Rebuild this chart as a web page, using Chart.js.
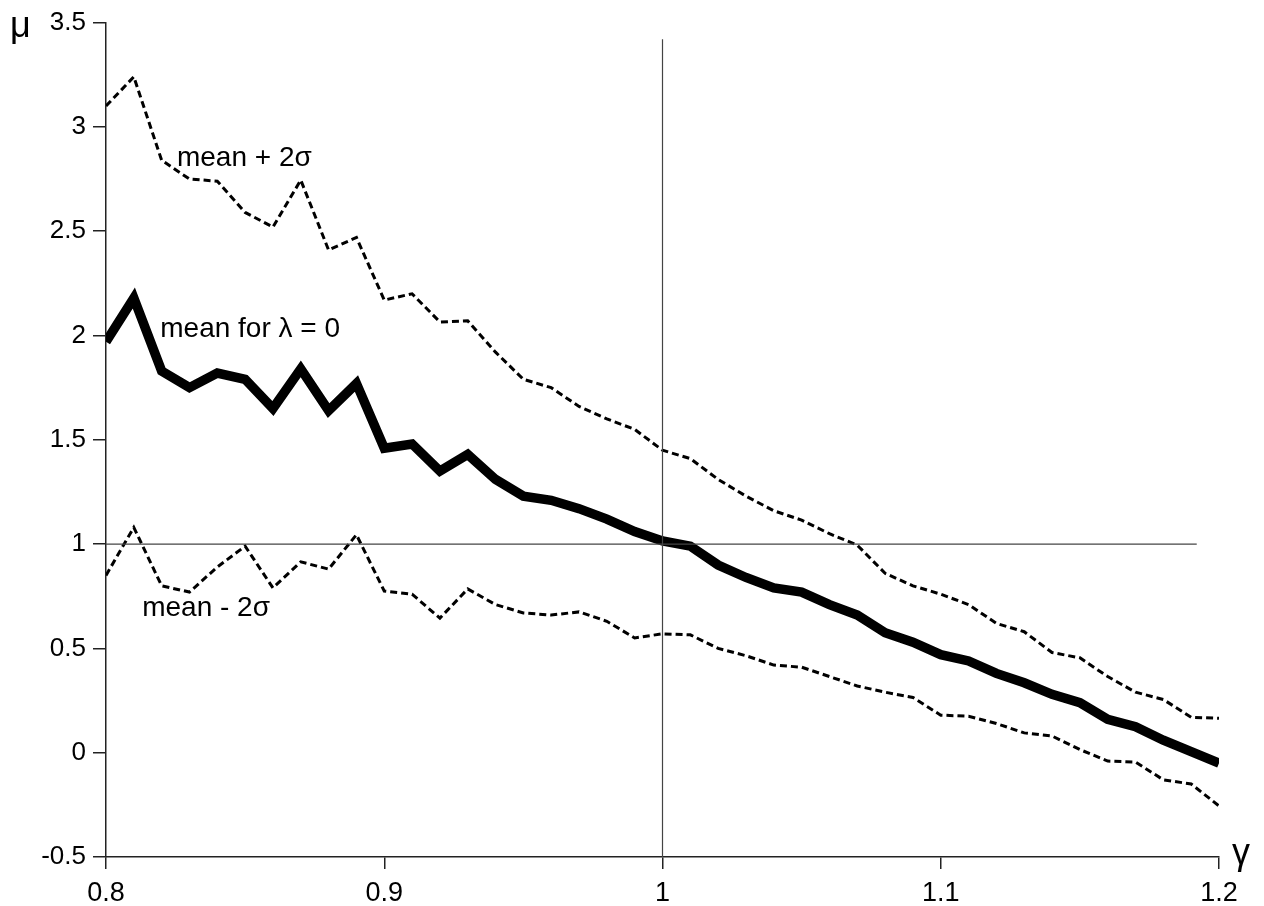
<!DOCTYPE html>
<html>
<head>
<meta charset="utf-8">
<script src="https://cdn.jsdelivr.net/npm/chart.js@4"></script>
<style>
  html, body { margin: 0; padding: 0; background: #fff; }
  canvas { display: block; }
</style>
</head>
<body>
<canvas id="chart" width="1264" height="906"></canvas>
<script>
// gamma values (x)
var gammas = [0.80, 0.81, 0.82, 0.83, 0.84, 0.85, 0.86, 0.87, 0.88, 0.89,
              0.90, 0.91, 0.92, 0.93, 0.94, 0.95, 0.96, 0.97, 0.98, 0.99,
              1.00, 1.01, 1.02, 1.03, 1.04, 1.05, 1.06, 1.07, 1.08, 1.09,
              1.10, 1.11, 1.12, 1.13, 1.14, 1.15, 1.16, 1.17, 1.18, 1.19, 1.20];

// mean for lambda = 0 (thick line)
var meanVals = [1.97, 2.18, 1.83, 1.75, 1.82, 1.79, 1.65, 1.84, 1.64, 1.77,
                1.46, 1.48, 1.35, 1.43, 1.31, 1.23, 1.21, 1.17, 1.12, 1.06,
                1.015, 0.99, 0.90, 0.84, 0.79, 0.77, 0.71, 0.66, 0.575, 0.53,
                0.47, 0.44, 0.38, 0.335, 0.28, 0.24, 0.16, 0.125, 0.06, 0.005, -0.05];

// mean + 2 sigma
var upperVals = [3.10, 3.24, 2.84, 2.75, 2.74, 2.59, 2.52, 2.745, 2.41, 2.47,
                 2.17, 2.20, 2.065, 2.07, 1.92, 1.79, 1.75, 1.66, 1.60, 1.55,
                 1.45, 1.41, 1.31, 1.23, 1.16, 1.115, 1.05, 0.995, 0.86, 0.80,
                 0.76, 0.71, 0.62, 0.58, 0.48, 0.455, 0.365, 0.29, 0.255, 0.17, 0.165];

// mean - 2 sigma
var lowerVals = [0.85, 1.08, 0.80, 0.77, 0.89, 0.99, 0.79, 0.915, 0.88, 1.045,
                 0.775, 0.76, 0.645, 0.785, 0.71, 0.67, 0.66, 0.675, 0.63, 0.55,
                 0.57, 0.565, 0.50, 0.465, 0.42, 0.41, 0.365, 0.32, 0.29, 0.265,
                 0.18, 0.175, 0.14, 0.095, 0.08, 0.015, -0.04, -0.045, -0.13, -0.15, -0.255];

var xTicks = [0.8, 0.9, 1, 1.1, 1.2];
var xTickLabels = ['0.8', '0.9', '1', '1.1', '1.2'];
var yTicks = [-0.5, 0, 0.5, 1, 1.5, 2, 2.5, 3, 3.5];
var yTickLabels = ['-0.5', '0', '0.5', '1', '1.5', '2', '2.5', '3', '3.5'];

// reference lines gamma = 1 and mu = 1
var vRefX = [1, 1],        vRefY = [-0.5, 3.42];
var hRefX = [0.8, 1.192],  hRefY = [1, 1];

// curve labels: text, x, y (data units)
var curveLabels = [
    ['mean + 2\u03c3', 0.8255, 2.85],
    ['mean for \u03bb = 0', 0.8195, 2.03],
    ['mean - 2\u03c3', 0.8130, 0.69]
];

var FONT = "'Liberation Sans', Arial, Helvetica, sans-serif";

function pts(xs, ys) {
    return xs.map(function (x, i) { return { x: x, y: ys[i] }; });
}

var textPlugin = {
    id: 'texts',
    afterDatasetsDraw: function (chart) {
        var ctx = chart.ctx, xs = chart.scales.x, ys = chart.scales.y, a = chart.chartArea;
        ctx.save();
        ctx.fillStyle = '#000';
        ctx.font = '28px ' + FONT;
        ctx.textBaseline = 'middle';
        ctx.textAlign = 'left';
        curveLabels.forEach(function (l) {
            ctx.fillText(l[0], xs.getPixelForValue(l[1]), ys.getPixelForValue(l[2]));
        });
        ctx.textBaseline = 'alphabetic';
        ctx.font = '36px ' + FONT;
        ctx.fillText('\u03bc', 10, a.top + 14);
        ctx.fillText('\u03b3', a.right + 13, a.bottom + 7);
        ctx.restore();
    }
};

new Chart(document.getElementById('chart').getContext('2d'), {
    type: 'line',
    data: {
        datasets: [
            { data: pts(vRefX, vRefY), borderColor: '#444', borderWidth: 1.2, pointRadius: 0 },
            { data: pts(hRefX, hRefY), borderColor: '#444', borderWidth: 1.2, pointRadius: 0 },
            { data: pts(gammas, upperVals), borderColor: '#000', borderWidth: 3,
              borderDash: [7, 4], pointRadius: 0, tension: 0 },
            { data: pts(gammas, lowerVals), borderColor: '#000', borderWidth: 3,
              borderDash: [7, 4], pointRadius: 0, tension: 0 },
            { data: pts(gammas, meanVals), borderColor: '#000', borderWidth: 9.5,
              borderJoinStyle: 'miter', pointRadius: 0, tension: 0 }
        ]
    },
    options: {
        responsive: false,
        animation: false,
        layout: { padding: { top: 22, right: 45, left: 0, bottom: 0 } },
        plugins: { legend: { display: false }, tooltip: { enabled: false } },
        scales: {
            x: {
                type: 'linear', min: 0.8, max: 1.2,
                afterBuildTicks: function (s) { s.ticks = xTicks.map(function (v) { return { value: v }; }); },
                afterFit: function (s) { s.height = 49; },
                border: { display: true, color: '#222', width: 1.5 },
                grid: { drawOnChartArea: false, drawTicks: true, tickLength: 12, color: '#222', lineWidth: 1.5 },
                ticks: {
                    color: '#000', font: { family: FONT, size: 27 }, padding: 8, maxRotation: 0,
                    callback: function (v, i) { return xTickLabels[i]; }
                }
            },
            y: {
                min: -0.5, max: 3.5,
                afterBuildTicks: function (s) { s.ticks = yTicks.map(function (v) { return { value: v }; }); },
                afterFit: function (s) { s.width = 106; },
                border: { display: true, color: '#222', width: 1.5 },
                grid: { drawOnChartArea: false, drawTicks: true, tickLength: 13, color: '#222', lineWidth: 1.5 },
                ticks: {
                    color: '#000', font: { family: FONT, size: 26 }, padding: 7,
                    callback: function (v, i) { return yTickLabels[i]; }
                }
            }
        }
    },
    plugins: [textPlugin]
});
</script>
</body>
</html>
